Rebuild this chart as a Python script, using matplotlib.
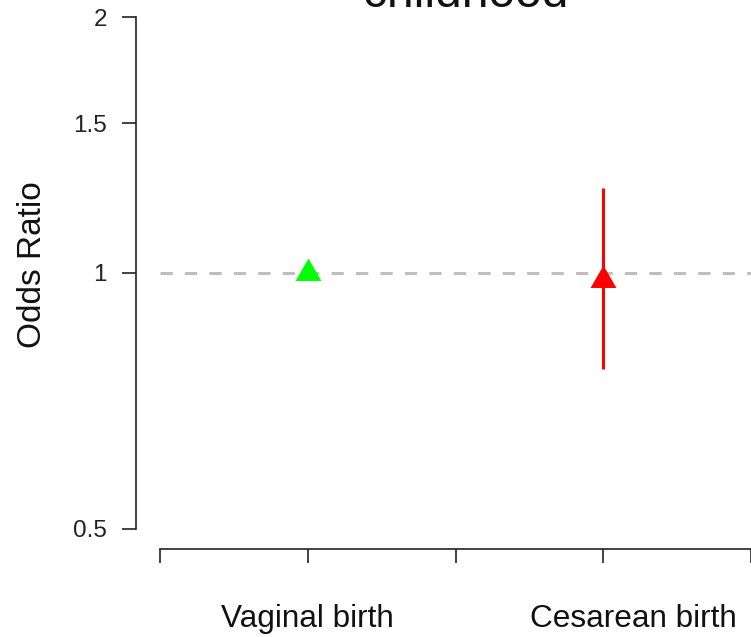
import numpy as np
import matplotlib
matplotlib.use('Agg')
import matplotlib.pyplot as plt
from matplotlib.path import Path

plt.rcParams['font.family'] = ['Liberation Sans', 'DejaVu Sans']

# data
groups = ['Vaginal birth', 'Cesarean birth']
group_pos = [1, 2]
odds_ratio = [1.0, 0.98]
ci_low = [np.nan, 0.77]
ci_high = [np.nan, 1.26]
colors = ['#00ff00', '#ff0000']
y_ticks = [0.5, 1, 1.5, 2]
y_tick_labels = ['0.5', '1', '1.5', '2']
x_ticks = [0.5, 1, 1.5, 2, 2.5]

# R style filled triangle (pch 17): point sits below the box centre
tri = Path([(0, 1.555), (1.347, -0.778), (-1.347, -0.778), (0, 1.555)],
           [Path.MOVETO, Path.LINETO, Path.LINETO, Path.CLOSEPOLY])

fig = plt.figure(figsize=(7.51, 6.37), dpi=100)
ax = fig.add_axes([136 / 751, 1 - 549 / 637, 639 / 751, 552 / 637])
ax.set_yscale('log')
ax.set_xlim(0.42, 2.58)
ax.set_ylim(0.473, 2.114)

# reference line at OR = 1
ax.plot([0.5, 2.6], [1, 1], color='#bebebe', lw=2.2,
        linestyle=(0, (4, 4)), zorder=1)

for x, y, lo, hi, c in zip(group_pos, odds_ratio, ci_low, ci_high, colors):
    if not np.isnan(lo):
        ax.plot([x, x], [lo, hi], color=c, lw=2.2, solid_capstyle='butt', zorder=2)
    ax.plot([x], [y], marker=tri, markersize=21.5, color=c,
            markeredgewidth=0, linestyle='none', zorder=3)

# axes like R: no box, axis lines only between end ticks
for s in ['top', 'right']:
    ax.spines[s].set_visible(False)
for s in ['left', 'bottom']:
    ax.spines[s].set_color('#222222')
    ax.spines[s].set_linewidth(1.2)
ax.spines['left'].set_bounds(0.5, 2)
ax.spines['bottom'].set_bounds(0.5, 2.5)

ax.set_yticks(y_ticks)
ax.set_yticklabels(y_tick_labels)
ax.yaxis.set_minor_locator(matplotlib.ticker.NullLocator())
ax.set_xticks(x_ticks)
ax.set_xticklabels([''] * len(x_ticks))
ax.tick_params(axis='both', length=10, width=1.2, color='#222222',
               labelsize=17.5, labelcolor='#222222', pad=11)

# group labels (second one sits a bit right of its tick)
label_shift = [0.0, 0.1]
for x, name, dx in zip(group_pos, groups, label_shift):
    ax.text(x + dx, -78 / 552, name, transform=ax.get_xaxis_transform(),
            ha='center', va='baseline', fontsize=22.7, color='#111111')

fig.text(33 / 751, 1 - 265 / 637, 'Odds Ratio', rotation=90,
         ha='center', va='center', fontsize=24, color='#111111')

# title, mostly cut off by the top edge as in the original
fig.text(466 / 751, 1 - 7 / 637, 'childhood', ha='center', va='baseline',
         fontsize=34.5, color='#111111')

fig.savefig('out.png', dpi=100)
